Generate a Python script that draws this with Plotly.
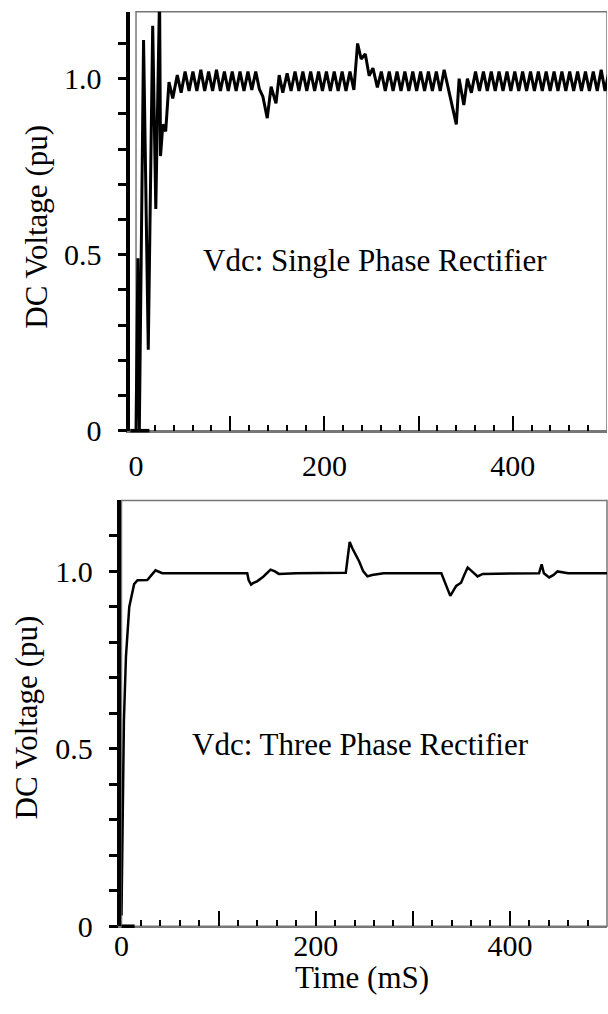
import plotly.graph_objects as go

# ---------------- Data: single phase rectifier (top) ----------------
sp_t_start = [-6, 0, 2, 3.5, 8, 13, 17.7, 21, 25, 26, 28.5, 31.5, 35, 39]
sp_v_start = [0, 0, 0.49, 0, 1.11, 0.23, 1.15, 0.63, 1.24, 0.78, 0.87, 0.85, 0.99, 0.944]

sp_t_rip1 = [43.8, 47.9, 52.1, 56.3, 60.4, 64.6, 68.8, 72.9, 77.1, 81.3, 85.4, 89.6,
             93.8, 97.9, 102.1, 106.3, 110.4, 114.6, 118.8, 122.9, 127.1]
sp_v_rip1 = [1.01, 0.96, 1.02, 0.965, 1.02, 0.965, 1.025, 0.965, 1.02, 0.965, 1.025, 0.965,
             1.02, 0.965, 1.02, 0.965, 1.02, 0.965, 1.02, 0.968, 1.02]

sp_t_dip1 = [131, 134.7, 136.5, 139.3, 143.4, 148.6, 152, 155.8]
sp_v_dip1 = [0.97, 0.949, 0.925, 0.888, 0.977, 0.93, 1.01, 0.96]

sp_t_rip2 = [160.4, 164.6, 168.8, 172.9, 177.1, 181.3, 185.4, 189.6, 193.8, 197.9,
             202.1, 206.3, 210.4, 214.6, 218.8, 222.9, 227.1, 231.3]
sp_v_rip2 = [1.015, 0.965, 1.02, 0.965, 1.02, 0.965, 1.02, 0.965, 1.02, 0.965,
             1.02, 0.965, 1.02, 0.965, 1.02, 0.965, 1.02, 0.968]

sp_t_spike = [235.2, 239, 243.4, 247.5, 251.5, 256.2]
sp_v_spike = [1.10, 1.056, 1.07, 1.008, 1.03, 0.975]

sp_t_rip3 = [260.4, 264.6, 268.8, 272.9, 277.1, 281.3, 285.4, 289.6, 293.8, 297.9,
             302.1, 306.3, 310.4, 314.6, 318.8, 322.9, 327.1]
sp_v_rip3 = [1.02, 0.965, 1.02, 0.965, 1.02, 0.965, 1.02, 0.965, 1.02, 0.965,
             1.02, 0.965, 1.02, 0.965, 1.02, 0.965, 1.025]

sp_t_dip3 = [340, 343, 348, 351.8, 356]
sp_v_dip3 = [0.87, 1.0, 0.925, 1.0, 0.96]

sp_t_rip4 = [360.4, 364.6, 368.8, 372.9, 377.1, 381.3, 385.4, 389.6, 393.8, 397.9,
             402.1, 406.3, 410.4, 414.6, 418.8, 422.9, 427.1, 431.3, 435.4, 439.6,
             443.8, 447.9, 452.1, 456.3, 460.4, 464.6, 468.8, 472.9, 477.1, 481.3,
             485.4, 489.6, 493.8, 497.9, 502.1]
sp_v_rip4 = [1.02, 0.965, 1.02, 0.965, 1.02, 0.965, 1.02, 0.965, 1.02, 0.965,
             1.02, 0.965, 1.02, 0.965, 1.02, 0.965, 1.02, 0.965, 1.02, 0.965,
             1.02, 0.965, 1.02, 0.965, 1.02, 0.965, 1.02, 0.965, 1.02, 0.965,
             1.02, 0.965, 1.025, 0.965, 1.02]

single_t = sp_t_start + sp_t_rip1 + sp_t_dip1 + sp_t_rip2 + sp_t_spike + sp_t_rip3 + sp_t_dip3 + sp_t_rip4
single_v = sp_v_start + sp_v_rip1 + sp_v_dip1 + sp_v_rip2 + sp_v_spike + sp_v_rip3 + sp_v_dip3 + sp_v_rip4

# ---------------- Data: three phase rectifier (bottom) ----------------
three_t = [0, 1.2, 2.5, 4.6, 8, 13, 16.5, 26.6, 35, 42, 60,
           129.5, 131, 133.5, 136, 139.6, 146, 153.5, 158, 162, 180,
           231, 233, 235, 238, 244.8, 249, 253.3, 258, 270,
           329.4, 333, 338.6, 344.7, 349.7, 353, 356.5, 361, 366.7, 372,
           430, 432.7, 435, 440.4, 445, 449, 460, 500]
three_v = [0.03, 0.30, 0.58, 0.76, 0.90, 0.964, 0.975, 0.976, 1.003, 0.995, 0.995,
           0.995, 0.975, 0.963, 0.968, 0.972, 0.985, 1.005, 1.0, 0.993, 0.995,
           0.996, 1.04, 1.083, 1.064, 1.028, 1.0, 0.986, 0.99, 0.995,
           0.995, 0.97, 0.931, 0.959, 0.968, 0.99, 1.011, 1.0, 0.986, 0.993,
           0.995, 1.02, 0.995, 0.983, 0.99, 1.0, 0.995, 0.995]

y_tickvals = [0, 0.1, 0.2, 0.3, 0.4, 0.5, 0.6, 0.7, 0.8, 0.9, 1.0, 1.1]
y_ticktext = ["0", "", "", "", "", "0.5", "", "", "", "", "1.0", ""]
x_tickvals = [0, 100, 200, 300, 400, 500]
x_ticktext = ["0", "", "200", "", "400", ""]

FONT = "Liberation Serif, Times New Roman, serif"
W, H = 608, 1014

fig = go.Figure()
fig.add_trace(go.Scatter(x=single_t, y=single_v, mode="lines",
                         line=dict(color="black", width=3), xaxis="x", yaxis="y",
                         showlegend=False, hoverinfo="skip"))
fig.add_trace(go.Scatter(x=three_t, y=three_v, mode="lines",
                         line=dict(color="black", width=2.5), xaxis="x2", yaxis="y2",
                         showlegend=False, hoverinfo="skip"))

def xaxis_style(domain, rng, anchor, standoff):
    return dict(domain=domain, range=rng, anchor=anchor,
                showline=True, linecolor="#777", linewidth=1.5,
                showgrid=False, zeroline=False,
                tickmode="array", tickvals=x_tickvals, ticktext=x_ticktext,
                ticks="inside", ticklen=15, tickwidth=2, tickcolor="black",
                ticklabelstandoff=standoff,
                minor=dict(tickmode="linear", tick0=0, dtick=20, ticks="inside",
                           ticklen=6, tickwidth=1.5, tickcolor="black"),
                tickfont=dict(family=FONT, size=30, color="black"))

def yaxis_style(domain, rng, anchor):
    return dict(domain=domain, range=rng, anchor=anchor,
                showline=True, linecolor="black", linewidth=3.5,
                showgrid=False, zeroline=False,
                tickmode="array", tickvals=y_tickvals, ticktext=y_ticktext,
                ticks="outside", ticklen=9, tickwidth=3, tickcolor="black",
                ticklabelstandoff=10,
                tickfont=dict(family=FONT, size=30, color="black"))

top_x = [124 / W, 607 / W]
top_y = [1 - 438 / H, 1 - 12 / H]
bot_x = [115 / W, 607 / W]
bot_y = [1 - 942 / H, 1 - 509 / H]

def note(text, px, py, angle=0):
    return dict(text=text, x=px / W, y=1 - py / H, xref="paper", yref="paper",
                xanchor="center", yanchor="middle", textangle=angle, showarrow=False,
                font=dict(family=FONT, size=31, color="black"))

fig.update_layout(
    width=W, height=H, autosize=False,
    margin=dict(l=0, r=0, t=0, b=0),
    paper_bgcolor="white", plot_bgcolor="white",
    xaxis=xaxis_style(top_x, [-6, 500], "y", 8),
    yaxis=yaxis_style(top_y, [0, 1.19], "x"),
    xaxis2=xaxis_style(bot_x, [0, 500], "y2", -8),
    yaxis2=yaxis_style(bot_y, [0, 1.2], "x2"),
    shapes=[
        dict(type="rect", xref="x", yref="y domain", x0=0, x1=500, y0=0, y1=1,
             line=dict(color="#777", width=1.5), layer="below"),
        dict(type="rect", xref="x2 domain", yref="y2 domain", x0=0, x1=1, y0=0, y1=1,
             line=dict(color="#777", width=1.5), layer="below"),
        dict(type="line", xref="x domain", yref="y domain", x0=0, x1=0.04, y0=0, y1=0,
             line=dict(color="black", width=3.5)),
        dict(type="line", xref="x2 domain", yref="y2 domain", x0=0, x1=0.027, y0=0, y1=0,
             line=dict(color="black", width=3.5)),
    ],
    annotations=[
        note("Vdc: Single Phase Rectifier", 372, 265),
        note("Vdc: Three Phase Rectifier", 357, 757),
        note("DC Voltage (pu)", 28, 231, -90),
        note("DC Voltage (pu)", 19, 730, -90),
        note("Time (mS)", 359, 994),
    ],
)

fig.write_html("out.html",
               config={"displayModeBar": False},
               post_script="document.body.style.margin='0';document.body.style.overflow='hidden';")
